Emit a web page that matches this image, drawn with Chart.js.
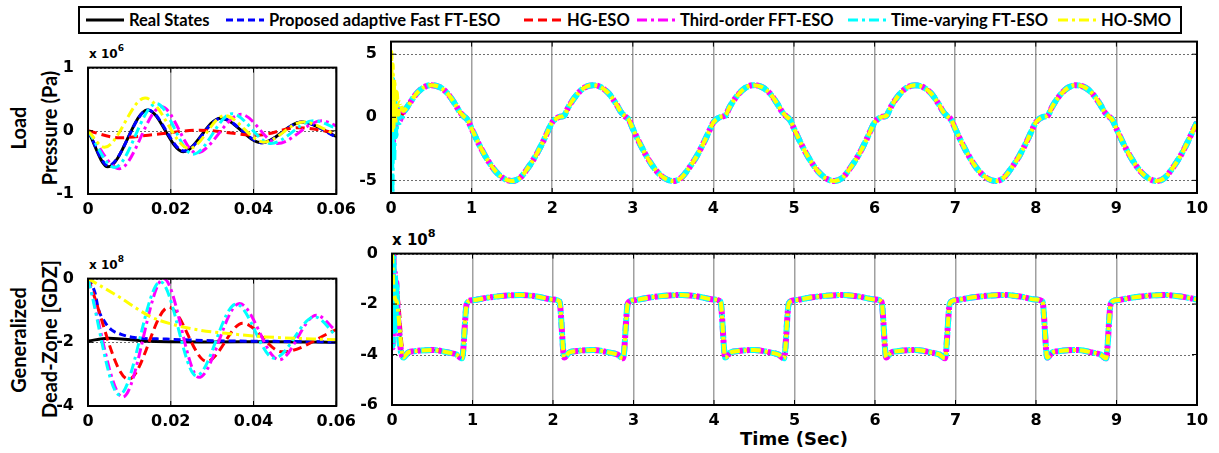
<!DOCTYPE html>
<html>
<head>
<meta charset="utf-8">
<script src="https://cdn.jsdelivr.net/npm/chart.js@4.4.0/dist/chart.umd.min.js"></script>
<style>
  body { margin: 0; background: #fff; width: 1219px; height: 453px; position: relative; overflow: hidden; }
  canvas { position: absolute; }
  .ylab { position: absolute; font: bold 20px Lato, sans-serif; white-space: nowrap; transform: translate(-50%, -50%) rotate(-90deg); }
  .expo { position: absolute; font-family: 'DejaVu Sans', sans-serif; font-weight: bold; white-space: nowrap; line-height: 1; }
  .expo sup { font-size: 0.75em; position: relative; top: -0.2em; }
  #legend { position: absolute; left: 78px; top: 6px; width: 1100px; height: 24px; border: 2px solid #000; }
  .item { position: absolute; top: 0; height: 24px; display: flex; align-items: center; font: bold 16.5px Lato, sans-serif; white-space: nowrap; }
  .item svg { margin-right: 5px; }
  #xtitle { position: absolute; left: 794px; top: 438px; transform: translate(-50%, -50%); font: bold 18px 'DejaVu Sans', sans-serif; }
</style>
</head>
<body>
<div id="legend"></div>
<div class="ylab" style="left:18px; top:128px;">Load</div>
<div class="ylab" style="left:49px; top:128px;">Pressure (Pa)</div>
<div class="ylab" style="left:18px; top:340px;">Generalized</div>
<div class="ylab" style="left:49px; top:339px;">Dead-Zone [GDZ]</div>
<div class="expo" style="left:89px; top:46px; font-size:12px;">x 10<sup>6</sup></div>
<div class="expo" style="left:89px; top:257px; font-size:12px;">x 10<sup>8</sup></div>
<div class="expo" style="left:392px; top:230px; font-size:15px;">x 10<sup>8</sup></div>
<div id="xtitle">Time (Sec)</div>
<canvas id="tl" width="318" height="170" style="left:44px; top:52px;"></canvas>
<canvas id="bl" width="318" height="171" style="left:44px; top:263px;"></canvas>
<canvas id="tr" width="868" height="195" style="left:347px; top:26px;"></canvas>
<canvas id="br" width="867" height="195" style="left:348px; top:238px;"></canvas>
<script>
// legend / series names
const seriesNames = ['Real States', 'Proposed adaptive Fast FT-ESO', 'HG-ESO', 'Third-order FFT-ESO', 'Time-varying FT-ESO', 'HO-SMO'];

// tick labels
const shortXTicks = [0, 0.02, 0.04, 0.06];
const longXTicks = [0, 1, 2, 3, 4, 5, 6, 7, 8, 9, 10];
const tlYTicks = [-1, 0, 1];
const blYTicks = [-4, -2, 0];
const trYTicks = [-5, 0, 5];
const brYTicks = [-6, -4, -2, 0];

// load pressure, first 0.06 s  (x 1e6)
const tlReal     = [[0,0],[0.0048,-0.57],[0.0144,0.33],[0.023,-0.33],[0.032,0.2],[0.042,-0.19],[0.0517,0.14],[0.06,-0.09]];
const tlProposed = [[0,0],[0.0049,-0.55],[0.0145,0.33],[0.0232,-0.32],[0.0322,0.2],[0.0422,-0.19],[0.0518,0.14],[0.06,-0.1]];
const tlHG       = [[0,0],[0.0075,-0.11],[0.016,-0.06],[0.027,0.01],[0.041,-0.07],[0.0505,0.05],[0.06,-0.03]];
const tlThird    = [[0,0],[0.0076,-0.6],[0.0178,0.38],[0.0262,-0.35],[0.037,0.26],[0.0458,-0.2],[0.0565,0.16],[0.06,0.08]];
const tlTV       = [[0,0],[0.0064,-0.58],[0.0165,0.43],[0.0254,-0.37],[0.0348,0.27],[0.0442,-0.2],[0.0545,0.16],[0.06,0.04]];
const tlHOSMO    = [[0,0],[0.004,-0.26],[0.0138,0.52],[0.0245,-0.28],[0.033,0.24],[0.0425,-0.18],[0.052,0.14],[0.06,-0.06]];

// generalized dead-zone, first 0.06 s  (x 1e8)
const blReal     = [[0,-1.96],[0.005,-1.87],[0.015,-1.97],[0.03,-1.99],[0.045,-1.98],[0.06,-2.0]];
const blProposed = [[0,0],[0.0017,-0.45],[0.0025,-0.95],[0.004,-1.35],[0.0056,-1.6],[0.008,-1.75],[0.0112,-1.85],[0.019,-1.9],[0.03,-1.95],[0.045,-1.97],[0.06,-1.99]];
const blHG       = [[0,0],[0.0098,-3.16],[0.0195,-0.9],[0.0287,-2.6],[0.0374,-1.4],[0.047,-2.3],[0.06,-1.6]];
const blThird    = [[0,0],[0.0084,-3.72],[0.0183,0],[0.0268,-3.1],[0.0366,-0.78],[0.0462,-2.55],[0.0552,-1.15],[0.06,-1.65]];
const blTV       = [[0,0],[0.0076,-3.65],[0.0175,-0.1],[0.0262,-3.05],[0.0358,-0.8],[0.045,-2.5],[0.0548,-1.2],[0.06,-1.8]];
const blHOSMO    = [[0,0],[0.0072,-0.55],[0.0152,-1.2],[0.02,-1.42],[0.027,-1.62],[0.035,-1.74],[0.043,-1.83],[0.06,-1.92]];

// load pressure over 10 s: start-up transient of each series, then the common track
const trRealHead     = [[0,0],[0.05,-0.2],[0.1,0.0],[0.15,0.35]];
const trProposedHead = [[0,0],[0.02,0.8],[0.04,-0.6],[0.07,-0.2],[0.1,-0.05],[0.15,0.3]];
const trHGHead       = [[0,0],[0.015,1.5],[0.035,-0.8],[0.06,0.4],[0.1,0.0],[0.15,0.35]];
const trThirdHead    = [[0,0],[0.01,3.2],[0.022,-2.5],[0.035,2.0],[0.05,-1.0],[0.07,0.8],[0.1,-0.3],[0.15,0.4]];
const trTVHead       = [[0,0],[0.006,-6.0],[0.015,3.0],[0.028,-3.5],[0.04,2.0],[0.055,-1.5],[0.075,0.8],[0.1,-0.4],[0.15,0.3]];
const trHOSMOHead    = [[0,0],[0.004,5.2],[0.012,-1.2],[0.02,4.2],[0.03,-0.8],[0.04,3.0],[0.055,-0.5],[0.07,2.0],[0.09,0.2],[0.11,1.2],[0.15,0.5]];
const trTail = [
  [0.2,0.8],[0.3,1.75],[0.4,2.35],[0.5,2.55],[0.6,2.4],[0.7,1.9],[0.8,1.0],[0.85,0.45],[0.9,0.1],[0.95,-0.2],[1.0,-0.9],[1.1,-2.25],[1.2,-3.4],[1.3,-4.3],[1.4,-4.85],[1.5,-5.05],[1.6,-4.8],[1.7,-4.0],[1.8,-3.0],[1.9,-1.75],[1.95,-1.05],[2.0,-0.4],[2.05,-0.1],[2.1,0.05],[2.15,0.15],
  [2.2,0.8],[2.3,1.75],[2.4,2.35],[2.5,2.55],[2.6,2.4],[2.7,1.9],[2.8,1.0],[2.85,0.45],[2.9,0.1],[2.95,-0.2],[3.0,-0.9],[3.1,-2.25],[3.2,-3.4],[3.3,-4.3],[3.4,-4.85],[3.5,-5.05],[3.6,-4.8],[3.7,-4.0],[3.8,-3.0],[3.9,-1.75],[3.95,-1.05],[4.0,-0.4],[4.05,-0.1],[4.1,0.05],[4.15,0.15],
  [4.2,0.8],[4.3,1.75],[4.4,2.35],[4.5,2.55],[4.6,2.4],[4.7,1.9],[4.8,1.0],[4.85,0.45],[4.9,0.1],[4.95,-0.2],[5.0,-0.9],[5.1,-2.25],[5.2,-3.4],[5.3,-4.3],[5.4,-4.85],[5.5,-5.05],[5.6,-4.8],[5.7,-4.0],[5.8,-3.0],[5.9,-1.75],[5.95,-1.05],[6.0,-0.4],[6.05,-0.1],[6.1,0.05],[6.15,0.15],
  [6.2,0.8],[6.3,1.75],[6.4,2.35],[6.5,2.55],[6.6,2.4],[6.7,1.9],[6.8,1.0],[6.85,0.45],[6.9,0.1],[6.95,-0.2],[7.0,-0.9],[7.1,-2.25],[7.2,-3.4],[7.3,-4.3],[7.4,-4.85],[7.5,-5.05],[7.6,-4.8],[7.7,-4.0],[7.8,-3.0],[7.9,-1.75],[7.95,-1.05],[8.0,-0.4],[8.05,-0.1],[8.1,0.05],[8.15,0.15],
  [8.2,0.8],[8.3,1.75],[8.4,2.35],[8.5,2.55],[8.6,2.4],[8.7,1.9],[8.8,1.0],[8.85,0.45],[8.9,0.1],[8.95,-0.2],[9.0,-0.9],[9.1,-2.25],[9.2,-3.4],[9.3,-4.3],[9.4,-4.85],[9.5,-5.05],[9.6,-4.8],[9.7,-4.0],[9.8,-3.0],[9.9,-1.75],[9.95,-1.05],[10.0,-0.4]
];

// generalized dead-zone over 10 s, after the first 0.06 s
const brTail = [
  [0.14,-4.12],[0.2,-3.92],[0.3,-3.86],[0.5,-3.82],[0.7,-3.92],[0.8,-4.0],[0.87,-4.15],[0.93,-1.97],[1.0,-1.85],[1.2,-1.74],[1.4,-1.67],[1.6,-1.64],[1.8,-1.7],[2.0,-1.82],[2.08,-1.9],
  [2.14,-4.12],[2.2,-3.92],[2.3,-3.86],[2.5,-3.82],[2.7,-3.92],[2.8,-4.0],[2.87,-4.15],[2.93,-1.97],[3.0,-1.85],[3.2,-1.74],[3.4,-1.67],[3.6,-1.64],[3.8,-1.7],[4.0,-1.82],[4.08,-1.9],
  [4.14,-4.12],[4.2,-3.92],[4.3,-3.86],[4.5,-3.82],[4.7,-3.92],[4.8,-4.0],[4.87,-4.15],[4.93,-1.97],[5.0,-1.85],[5.2,-1.74],[5.4,-1.67],[5.6,-1.64],[5.8,-1.7],[6.0,-1.82],[6.08,-1.9],
  [6.14,-4.12],[6.2,-3.92],[6.3,-3.86],[6.5,-3.82],[6.7,-3.92],[6.8,-4.0],[6.87,-4.15],[6.93,-1.97],[7.0,-1.85],[7.2,-1.74],[7.4,-1.67],[7.6,-1.64],[7.8,-1.7],[8.0,-1.82],[8.08,-1.9],
  [8.14,-4.12],[8.2,-3.92],[8.3,-3.86],[8.5,-3.82],[8.7,-3.92],[8.8,-4.0],[8.87,-4.15],[8.93,-1.97],[9.0,-1.85],[9.2,-1.74],[9.4,-1.67],[9.6,-1.64],[9.8,-1.7],[10.0,-1.82]
];

const lineStyles = [
  { color: '#000000', dash: [] },
  { color: '#0000ff', dash: [7, 4] },
  { color: '#ff0000', dash: [9, 5] },
  { color: '#ff00ff', dash: [10, 4, 3, 4] },
  { color: '#00ffff', dash: [10, 4, 3, 4] },
  { color: '#ffff00', dash: [10, 4, 3, 4] }
];
// line widths: zoomed plots vs. full 10 s plots (the overlapping estimates form a thick band)
const zoomWidths = [3, 3, 3, 3, 3, 3];
const longWidths = [2, 4, 4, 6, 6, 4];

// legend
const legendPos = [6, 146, 444, 557, 768, 978];
const legend = document.getElementById('legend');
seriesNames.forEach((name, i) => {
  const st = lineStyles[i];
  const div = document.createElement('div');
  div.className = 'item';
  div.style.left = legendPos[i] + 'px';
  div.innerHTML = '<svg width="38" height="6"><line x1="0" y1="3" x2="38" y2="3" stroke="' + st.color +
    '" stroke-width="3" stroke-dasharray="' + (st.dash.length ? st.dash.join(',') : 'none') + '"/></svg>' + name;
  legend.appendChild(div);
});

// dotted horizontal grid, box and inward ticks on all four sides (matlab style)
const framePlugin = {
  id: 'frame',
  beforeDatasetsDraw(chart) {
    const { ctx, chartArea: a, scales } = chart;
    ctx.save();
    ctx.strokeStyle = '#6e6e6e';
    ctx.lineWidth = 1;
    ctx.setLineDash([2, 2]);
    ctx.beginPath();
    scales.y.ticks.forEach(t => {
      const py = Math.round(scales.y.getPixelForValue(t.value)) + 0.5;
      ctx.moveTo(a.left, py); ctx.lineTo(a.right, py);
    });
    ctx.stroke();
    ctx.restore();
  },
  afterDraw(chart) {
    const { ctx, chartArea: a, scales } = chart;
    ctx.save();
    ctx.strokeStyle = '#000';
    ctx.lineWidth = 1;
    ctx.beginPath();
    scales.x.ticks.forEach(t => {
      const px = scales.x.getPixelForValue(t.value);
      ctx.moveTo(px, a.bottom); ctx.lineTo(px, a.bottom - 5);
      ctx.moveTo(px, a.top); ctx.lineTo(px, a.top + 5);
    });
    scales.y.ticks.forEach(t => {
      const py = scales.y.getPixelForValue(t.value);
      ctx.moveTo(a.left, py); ctx.lineTo(a.left + 5, py);
      ctx.moveTo(a.right, py); ctx.lineTo(a.right - 5, py);
    });
    ctx.stroke();
    ctx.lineWidth = 2;
    ctx.strokeRect(a.left, a.top, a.right - a.left, a.bottom - a.top);
    ctx.restore();
  }
};

const tickFont = { family: 'DejaVu Sans', weight: 'bold', size: 16 };
const toXY = pairs => pairs.map(p => ({ x: p[0], y: p[1] }));

function makePlot(id, seriesData, widths, xTicks, yTicks, yRange, padR) {
  new Chart(document.getElementById(id), {
    type: 'line',
    data: {
      datasets: seriesData.map((d, i) => ({
        label: seriesNames[i],
        data: toXY(d),
        borderColor: lineStyles[i].color,
        borderDash: lineStyles[i].dash,
        borderWidth: widths[i],
        pointRadius: 0,
        cubicInterpolationMode: 'monotone',
        order: seriesData.length - i
      }))
    },
    options: {
      responsive: false,
      animation: false,
      events: [],
      layout: { padding: { top: 10, right: padR, left: 0, bottom: 0 } },
      plugins: { legend: { display: false }, tooltip: { enabled: false } },
      scales: {
        x: {
          type: 'linear',
          min: xTicks[0],
          max: xTicks[xTicks.length - 1],
          afterBuildTicks: s => { s.ticks = xTicks.map(v => ({ value: v })); },
          afterFit: s => { s.height = 28; },
          grid: { color: '#a0a0a0', lineWidth: 1.5, drawTicks: false },
          border: { display: false },
          ticks: { padding: 6, color: '#000', font: tickFont, maxRotation: 0, autoSkip: false, callback: v => String(v) }
        },
        y: {
          min: yRange[0],
          max: yRange[1],
          afterBuildTicks: s => { s.ticks = yTicks.map(v => ({ value: v })); },
          afterFit: s => { s.width = 44; },
          grid: { display: false },
          border: { display: false },
          ticks: { padding: 6, color: '#000', font: tickFont, callback: v => String(v) }
        }
      }
    },
    plugins: [framePlugin]
  });
}

makePlot('tl', [tlReal, tlProposed, tlHG, tlThird, tlTV, tlHOSMO], zoomWidths, shortXTicks, tlYTicks, [-1, 1], 22);
makePlot('bl', [blReal, blProposed, blHG, blThird, blTV, blHOSMO], zoomWidths, shortXTicks, blYTicks, [-4, 0], 22);
makePlot('tr', [trRealHead, trProposedHead, trHGHead, trThirdHead, trTVHead, trHOSMOHead].map(h => h.concat(trTail)), longWidths, longXTicks, trYTicks, [-6, 6], 18);
makePlot('br', [blReal, blProposed, blHG, blThird, blTV, blHOSMO].map(h => h.concat(brTail)), longWidths, longXTicks, brYTicks, [-6, 0], 18);
</script>
</body>
</html>
